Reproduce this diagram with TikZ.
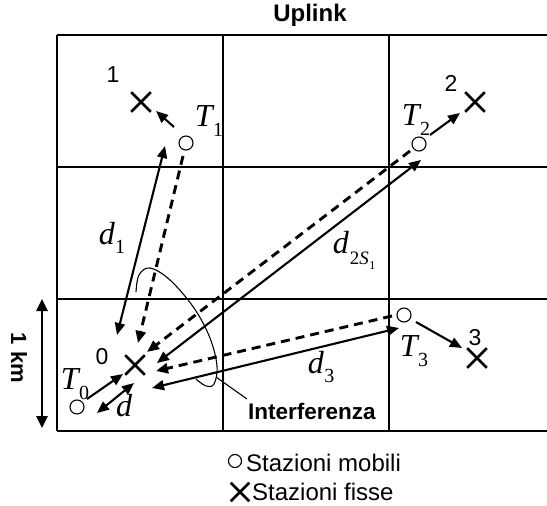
\documentclass[tikz,border=0pt]{standalone}
\usepackage{fontspec}
\setmainfont{Liberation Sans}
\newfontfamily\tms{Liberation Serif}
\usetikzlibrary{arrows.meta,shapes.misc}
\newcommand\vlab[2]{{\tms\itshape #1\kern0.5pt\raisebox{-0.3em}{\upshape\fontsize{20}{20}\selectfont #2}}}
\begin{document}
\begin{tikzpicture}[x=1pt,y=-1pt,
  grid/.style={line width=1.7pt},
  fixst/.style={cross out,draw,line width=2.6pt,minimum size=17pt,inner sep=0pt},
  mobst/.style={circle,draw,line width=1.1pt,minimum size=14pt,inner sep=0pt},
  lbl/.style={font=\fontsize{23}{23}\selectfont,inner sep=0pt},
  mlbl/.style={font=\fontsize{32}{32}\selectfont,inner sep=0pt},
  tip/.style={-{Triangle[length=12pt,width=10pt]}},
  dtip/.style={{Triangle[length=12pt,width=10pt]}-{Triangle[length=12pt,width=10pt]}},
  sol/.style={line width=2.1pt},
  das/.style={line width=2.9pt,dash pattern=on 9pt off 6pt},
]
\useasboundingbox (0,0) rectangle (547,506);
% grid
\draw[grid] (57,35) -- (547,35);
\draw[grid] (57,167) -- (547,167);
\draw[grid] (57,299) -- (547,299);
\draw[grid] (57,431) -- (547,431);
\draw[grid] (57,35) -- (57,431);
\draw[grid] (223,35) -- (223,431);
\draw[grid] (389,35) -- (389,431);
% title
\node[font=\bfseries\fontsize{24}{24}\selectfont] (title) at (310,15) {Uplink};
% stations
\node[fixst] (s0) at (135,365) {};
\node[fixst] (s1) at (141,102) {};
\node[fixst] (s2) at (475,102) {};
\node[fixst] (s3) at (477,358) {};
\node[mobst] (t0) at (77,407) {};
\node[mobst] (t1) at (186,143) {};
\node[mobst] (t2) at (419,144) {};
\node[mobst] (t3) at (404,315) {};
% station labels
\node[lbl] (l0) at (102,357) {0};
\node[lbl] (l1) at (113,75) {1};
\node[lbl] (l2) at (451,83) {2};
\node[lbl] (l3) at (475,338) {3};
\node[mlbl] (lt0) at (75,384) {\vlab{T}{0}};
\node[mlbl] (lt1) at (209,121) {\vlab{T}{1}};
\node[mlbl] (lt2) at (416,120) {\vlab{T}{2}};
\node[mlbl] (lt3) at (414,351) {\vlab{T}{3}};
% endpoints
\coordinate (a1s) at (174,127); \coordinate (a1e) at (156,111);
\coordinate (a2s) at (430,135); \coordinate (a2e) at (460,113);
\coordinate (a3s) at (416,322); \coordinate (a3e) at (462,348);
\coordinate (a0s) at (87,399);  \coordinate (a0e) at (123,374);
\coordinate (ds) at (97,413);   \coordinate (de) at (134,383);
\coordinate (d1s) at (117,335); \coordinate (d1e) at (165,146);
\coordinate (i1s) at (183,156); \coordinate (i1e) at (138,343);
\coordinate (i2s) at (410,151); \coordinate (i2e) at (147,352);
\coordinate (d2s) at (157,363); \coordinate (d2e) at (421,160);
\coordinate (i3s) at (392,316); \coordinate (i3e) at (156,371);
\coordinate (d3s) at (152,388); \coordinate (d3e) at (399,328);
% arrows to own stations
\draw[sol,tip] (a1s) -- (a1e);
\draw[sol,tip] (a2s) -- (a2e);
\draw[sol,tip] (a3s) -- (a3e);
\draw[sol,tip] (a0s) -- (a0e);
\draw[sol,dtip] (ds) -- (de);
% distances
\draw[sol,dtip] (d1s) -- (d1e);
\draw[sol,dtip] (d2s) -- (d2e);
\draw[sol,dtip] (d3s) -- (d3e);
% interference (dashed)
\draw[das,tip] (i1s) -- (i1e);
\draw[das,tip] (i2s) -- (i2e);
\draw[das,tip] (i3s) -- (i3e);
% distance labels
\node[mlbl] (ld) at (124,406) {{\tms\itshape d}};
\node[mlbl] (ld1) at (112,238) {\vlab{d}{1}};
\node[mlbl] (ld3) at (321,367) {\vlab{d}{3}};
\node[mlbl] (ld2) at (354,250) {{\tms\itshape d\kern1pt\raisebox{-0.35em}{\fontsize{19}{19}\selectfont\upshape 2\itshape S\kern0.5pt\raisebox{-0.25em}{\upshape\fontsize{12}{12}\selectfont 1}}}};
% interference ellipse
\draw[line width=1.1pt] plot[smooth,tension=0.6] coordinates {(136,292) (139,275) (150,268) (170,280) (194,308) (210,338) (217,366) (214,384) (206,386) (196,379)};
\node[font=\bfseries\fontsize{22.5}{22.5}\selectfont,anchor=west,inner sep=0pt] (intf) at (248,411) {Interferenza};
\coordinate (lead) at (216,377);
\draw[line width=1.1pt] (lead) -- (247,399);
% 1 km
\coordinate (kt) at (42,299); \coordinate (kb) at (42,428);
\draw[line width=2.6pt,{Triangle[length=12pt,width=11pt]}-{Triangle[length=12pt,width=11pt]}] (kt) -- (kb);
\node[font=\bfseries\fontsize{22}{22}\selectfont,rotate=-90] (km) at (19,358) {1 km};
% legend
\node[mobst,minimum size=13pt] (lgc) at (235,461) {};
\node[anchor=west,inner sep=0pt,font=\fontsize{24}{24}\selectfont] (lgct) at (246,463) {Stazioni mobili};
\node[fixst,minimum size=16pt] (lgx) at (240,492) {};
\node[anchor=west,inner sep=0pt,font=\fontsize{24}{24}\selectfont] (lgxt) at (252,492) {Stazioni fisse};
\end{tikzpicture}
\end{document}
